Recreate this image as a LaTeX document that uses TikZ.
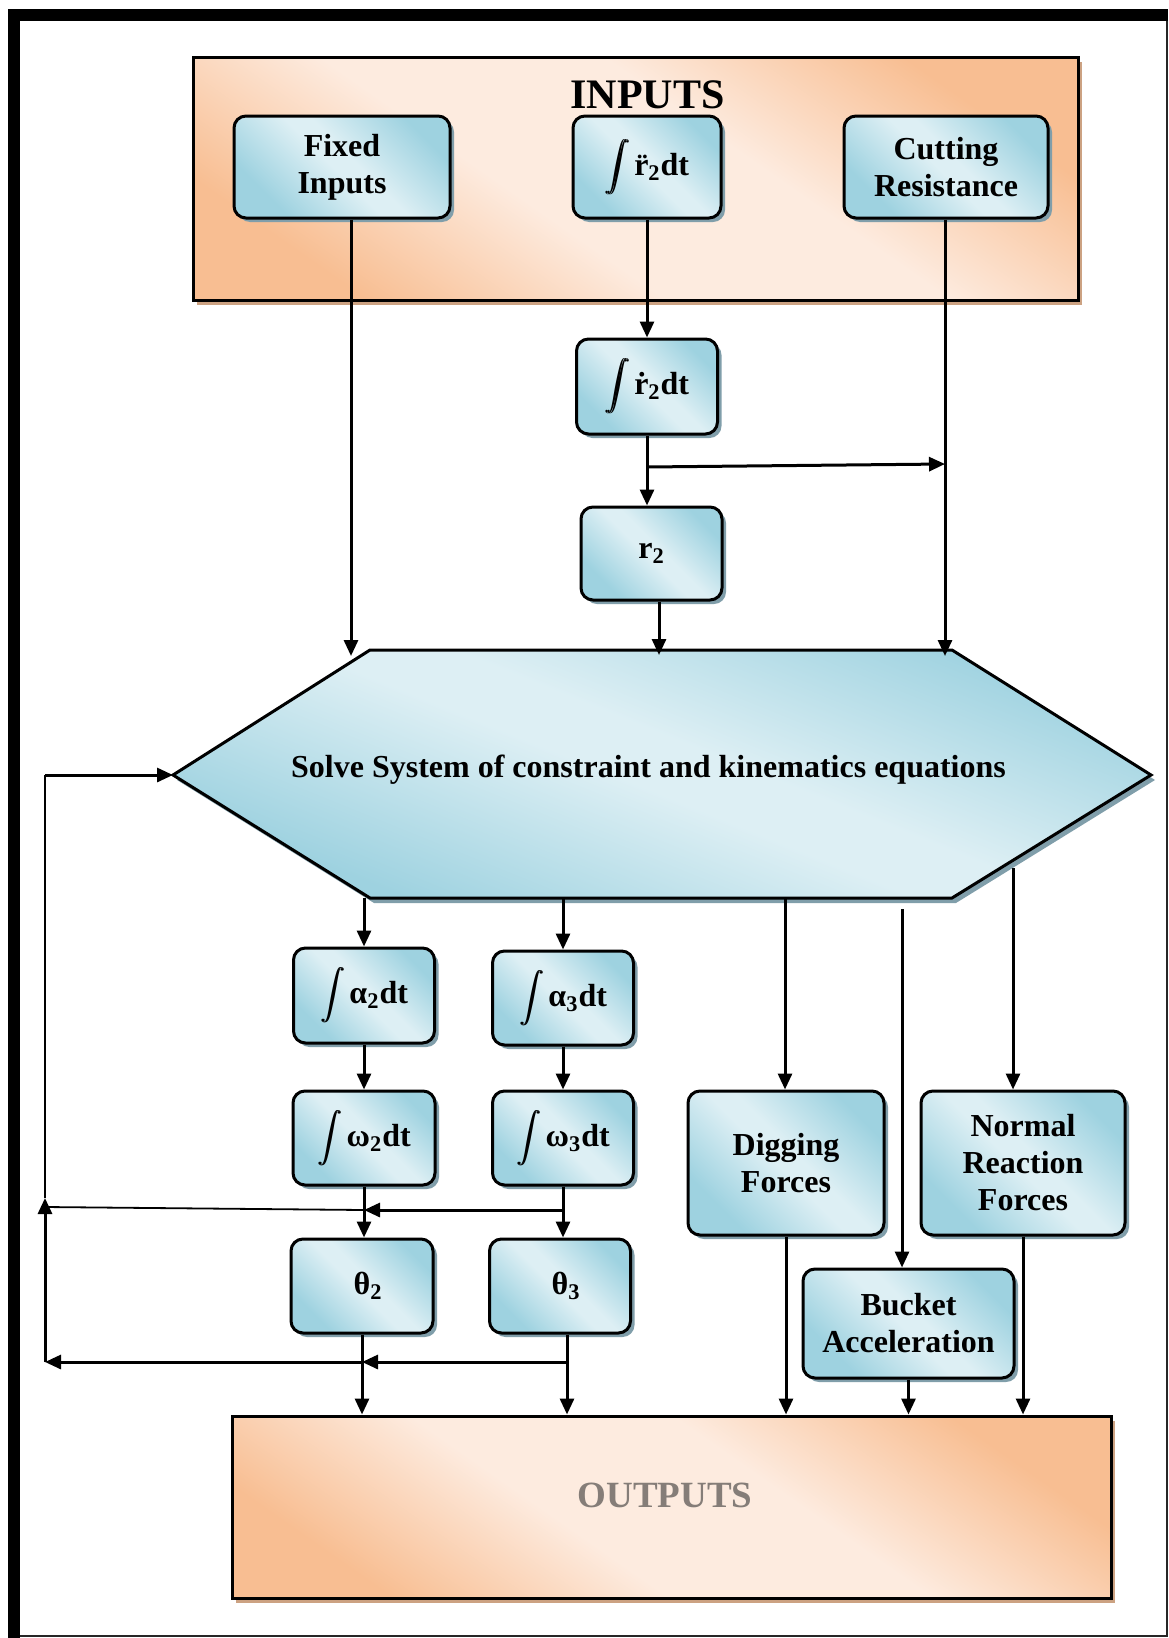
\documentclass[tikz,border=0pt]{standalone}
\usepackage{amsmath}
\usepackage{fontspec}
\setmainfont{Liberation Serif}
\usepackage{graphicx}
\usetikzlibrary{arrows.meta,shadows}
\definecolor{bdark}{RGB}{158,210,224}
\definecolor{blight}{RGB}{221,239,244}
\definecolor{odark}{RGB}{248,190,146}
\definecolor{olight}{RGB}{253,235,223}
\definecolor{bshadow}{RGB}{128,158,170}
\definecolor{oshadow}{RGB}{204,162,130}
\definecolor{outgray}{RGB}{133,125,120}
\pgfdeclareverticalshading{oshading}{100bp}{color(0bp)=(odark); color(25bp)=(odark); color(42bp)=(olight); color(58bp)=(olight); color(75bp)=(odark); color(100bp)=(odark)}
\pgfdeclareverticalshading{bshading}{100bp}{color(0bp)=(bdark); color(27bp)=(bdark); color(48bp)=(blight); color(54bp)=(blight); color(75bp)=(bdark); color(100bp)=(bdark)}
\newcommand{\intglyph}{\raisebox{1pt}{\scalebox{0.7}[0.72]{$\displaystyle\int$}}}
\newcommand{\myint}{\mbox{\rlap{\intglyph}\kern0.6pt\intglyph}\kern2pt}
\tikzset{
  bshade/.style={shading=bshading, shading angle=-45},
  bbox/.style={bshade, draw=black, line width=1.5pt, rounded corners=6pt, align=center,
    inner sep=0pt, font=\fontsize{16}{18.5}\selectfont\bfseries,
    drop shadow={shadow xshift=2pt, shadow yshift=-2pt, fill=bshadow, opacity=1}},
  obox/.style={shading=oshading, shading angle=-35,
    draw=black, line width=1.5pt, inner sep=0pt,
    drop shadow={shadow xshift=2pt, shadow yshift=-2.5pt, fill=oshadow, opacity=1}},
  arr/.style={-{Triangle[length=8pt,width=7pt]}, line width=1.5pt},
  thinln/.style={line width=0.9pt},
}
\begin{document}
\begin{tikzpicture}[x=0.5pt,y=-0.5pt]
\useasboundingbox (0,0) rectangle (1168,1638);
% outer frame
\fill[black] (8,9) rectangle (20,1638);
\fill[black] (8,9) rectangle (1168,21);
\draw[line width=1pt, black!85] (1166.5,21) -- (1166.5,1635.5) -- (20,1635.5);

% INPUTS box
\node[obox, minimum width=442.5pt, minimum height=121.5pt] (inp) at (635.5,178.5) {};
\node[font=\fontsize{21}{24}\selectfont\bfseries, anchor=base, inner sep=0pt] (inptxt) at (647.5,108) {INPUTS};

% input boxes
\node[bbox, minimum width=108pt, minimum height=51pt] (fixed) at (342,167) {Fixed\\Inputs};
\node[bbox, minimum width=74pt, minimum height=51pt] (rdd) at (647,167) {\myint\"r\textsubscript{2}dt};
\node[bbox, minimum width=102pt, minimum height=51pt] (cut) at (946,167) {Cutting\\Resistance};

\node[bbox, minimum width=70.5pt, minimum height=47.5pt] (rd) at (647,386.5) {\myint\.r\textsubscript{2}dt};
\node[bbox, minimum width=70.5pt, minimum height=46.5pt] (r2) at (651.5,553.5) {r\textsubscript{2}};

% hexagon
\coordinate (hexL) at (173,775);
\coordinate (hexTL) at (370,650);
\coordinate (hexTR) at (952,650);
\coordinate (hexR) at (1151,775);
\coordinate (hexBR) at (952,898);
\coordinate (hexBL) at (370,898);
\path[shading=bshading, shading angle=-22, draw=black, line width=1.5pt,
  drop shadow={shadow xshift=2pt, shadow yshift=-2.5pt, fill=bshadow, opacity=1}]
  (hexL) -- (hexTL) -- (hexTR) -- (hexR) -- (hexBR) -- (hexBL) -- cycle;
\node[font=\fontsize{16}{18.5}\selectfont\bfseries, anchor=base, inner sep=0pt] (solve) at (648.5,777)
  {Solve System of constraint and kinematics equations};

% lower boxes
\node[bbox, minimum width=70.5pt, minimum height=47.5pt] (a2) at (364,995.5) {\myint α\textsubscript{2}dt};
\node[bbox, minimum width=70.5pt, minimum height=47pt] (a3) at (563,998) {\myint α\textsubscript{3}dt};
\node[bbox, minimum width=71pt, minimum height=47pt] (w2) at (364,1138) {\myint ω\textsubscript{2}dt};
\node[bbox, minimum width=70.5pt, minimum height=47pt] (w3) at (563,1138) {\myint ω\textsubscript{3}dt};
\node[bbox, minimum width=71pt, minimum height=47pt] (t2) at (362,1286) {\hspace{6pt}θ\textsubscript{2}};
\node[bbox, minimum width=70.5pt, minimum height=47pt] (t3) at (560,1286) {\hspace{6pt}θ\textsubscript{3}};
\node[bbox, minimum width=98pt, minimum height=72pt] (dig) at (786,1163) {Digging\\Forces};
\node[bbox, minimum width=102pt, minimum height=72pt] (nrf) at (1023,1163) {Normal\\Reaction\\Forces};
\node[bbox, minimum width=105.5pt, minimum height=54.5pt] (buck) at (908.5,1323.5) {Bucket\\Acceleration};

% OUTPUTS box
\node[obox, minimum width=439.5pt, minimum height=91pt] (outp) at (671.5,1507) {};
\node[font=\fontsize{18.5}{22}\selectfont\bfseries, text=outgray, anchor=base, inner sep=0pt] (outtxt) at (665,1507) {OUTPUTS};

% connectors: inputs
\coordinate (hFI) at (351,656);
\coordinate (hR2) at (659,655);
\coordinate (hCR) at (945,656);
\draw[arr] (hFI |- fixed.south) -- (hFI);
\draw[arr] (rdd.south) -- (rd.north);
\draw[arr] (rd.south) -- (rd.south |- r2.north);
\coordinate (brA) at (647,467);
\coordinate (brB) at (945,464);
\draw[arr] (brA) -- (brB);
\draw[arr] (hR2 |- r2.south) -- (hR2);
\draw[arr] (hCR |- cut.south) -- (hCR);

% connectors: hexagon to lower boxes
\coordinate (hA2) at (364,898);
\coordinate (hA3) at (563,898);
\coordinate (hDG) at (785,898);
\coordinate (hBA) at (902,909);
\coordinate (hNR) at (1013,868);
\draw[arr] (hA2) -- (a2.north);
\draw[arr] (hA3) -- (a3.north);
\draw[arr] (a2.south) -- (w2.north);
\draw[arr] (a3.south) -- (w3.north);
\draw[arr] (w2.south) -- (t2.north -| w2.south);
\draw[arr] (w3.south) -- (t3.north -| w3.south);
\draw[arr] (hDG) -- (hDG |- dig.north);
\draw[arr] (hBA) -- (hBA |- buck.north);
\draw[arr] (hNR) -- (hNR |- nrf.north);

% feedback loops
\coordinate (fbU) at (563,1210);
\coordinate (fbU2) at (364,1210);
\coordinate (fbUL) at (45,1207);
\coordinate (fbL) at (567,1362);
\coordinate (fbL2) at (362,1362);
\coordinate (fbLL) at (45,1362);
\coordinate (fbUp) at (45,1198);
\coordinate (fbTop) at (45,775);
\draw[arr] (fbU) -- (fbU2);
\draw[thinln] (fbU2) -- (fbUL);
\draw[arr] (fbL) -- (fbL2);
\draw[arr] (fbL2) -- (fbLL);
\draw[arr] (fbLL) -- (fbUp);
\draw[thinln] (fbUp) -- (fbTop);
\draw[arr] (fbTop) -- (hexL);

% connectors: to outputs
\draw[arr] (t2.south) -- (t2.south |- outp.north);
\draw[arr] (fbL |- t3.south) -- (fbL |- outp.north);
\draw[arr] (dig.south) -- (dig.south |- outp.north);
\draw[arr] (buck.south) -- (buck.south |- outp.north);
\draw[arr] (nrf.south) -- (nrf.south |- outp.north);
\end{tikzpicture}
\end{document}
